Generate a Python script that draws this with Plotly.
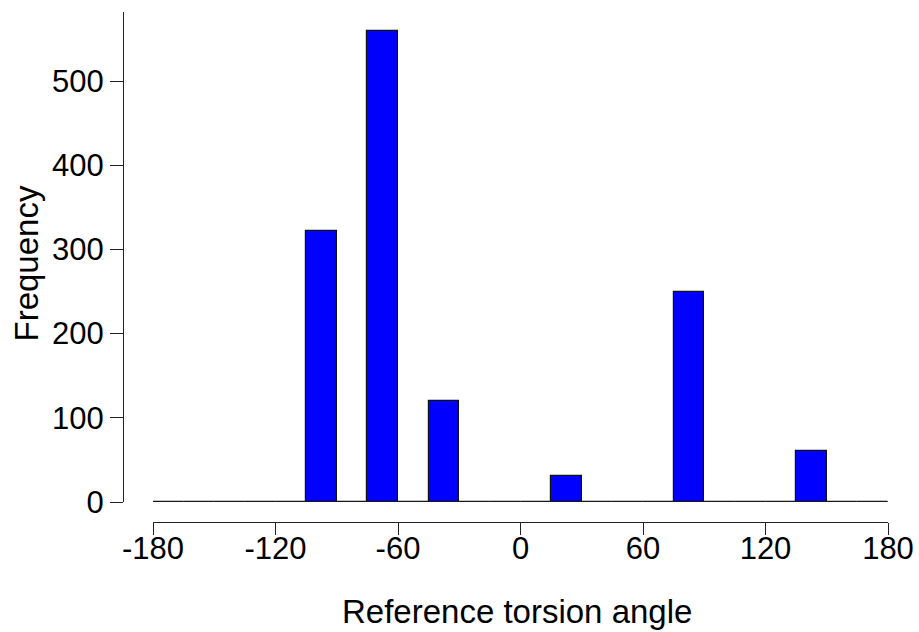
import plotly.graph_objects as go

# Histogram bins (width 15 degrees) and counts
bin_start = -180
bin_width = 15
counts = [0, 0, 0, 0, 0, 322, 0, 559, 0, 120, 0, 0, 0, 31, 0, 0, 0, 250, 0, 0, 0, 61, 0, 0]
x_ticks = [-180, -120, -60, 0, 60, 120, 180]
y_ticks = [0, 100, 200, 300, 400, 500]
x_title = "Reference torsion angle"
y_title = "Frequency"

edges = [bin_start + i * bin_width for i in range(len(counts) + 1)]
centers = [e + bin_width / 2 for e in edges[:-1]]

W, H = 919, 632
ml, mr, mt, mb = 123, 31, 12, 110
pw, ph = W - ml - mr, H - mt - mb
xd0 = (153 - ml) / pw
yd0 = (mt + ph - 502) / ph

font = dict(family="Liberation Sans, Arial, sans-serif", size=31, color="black")

fig = go.Figure()
fig.add_trace(go.Scatter(x=[edges[0], edges[-1]], y=[0, 0], mode="lines",
                         line=dict(color="#222222", width=1.2), hoverinfo="skip",
                         showlegend=False))
fig.add_trace(go.Bar(x=centers, y=counts, width=bin_width,
                     marker=dict(color="#0000FF", line=dict(color="#111111", width=1.2)),
                     showlegend=False))

fig.update_layout(
    width=W, height=H,
    margin=dict(l=ml, r=mr, t=mt, b=mb, pad=0, autoexpand=False),
    plot_bgcolor="white", paper_bgcolor="white",
    font=font,
    bargap=0,
    xaxis=dict(domain=[xd0, 1], range=[edges[0], edges[-1]], anchor="free", position=0,
               automargin=False,
               tickvals=x_ticks, ticktext=[str(v) for v in x_ticks],
               showline=True, linecolor="#222222", linewidth=1.2,
               ticks="outside", ticklen=12, tickwidth=1.2, tickcolor="#222222",
               ticklabelstandoff=-13,
               showgrid=False, zeroline=False, tickfont=font),
    yaxis=dict(domain=[yd0, 1], range=[0, 582], anchor="free", position=0,
               automargin=False,
               tickvals=y_ticks, ticktext=[str(v) for v in y_ticks],
               showline=True, linecolor="#222222", linewidth=1.2,
               ticks="outside", ticklen=13, tickwidth=1.2, tickcolor="#222222",
               ticklabelstandoff=0,
               showgrid=False, zeroline=False, tickfont=font),
    annotations=[
        dict(text=x_title, xref="paper", yref="paper",
             x=(517 - ml) / pw, y=(mt + ph - 611) / ph,
             xanchor="center", yanchor="middle", showarrow=False,
             font=dict(family=font["family"], size=33, color="black")),
        dict(text=y_title, xref="paper", yref="paper",
             x=(26 - ml) / pw, y=(mt + ph - 263.5) / ph, textangle=-90,
             xanchor="center", yanchor="middle", showarrow=False,
             font=dict(family=font["family"], size=33, color="black")),
    ],
)

fig.write_html("out.html")
